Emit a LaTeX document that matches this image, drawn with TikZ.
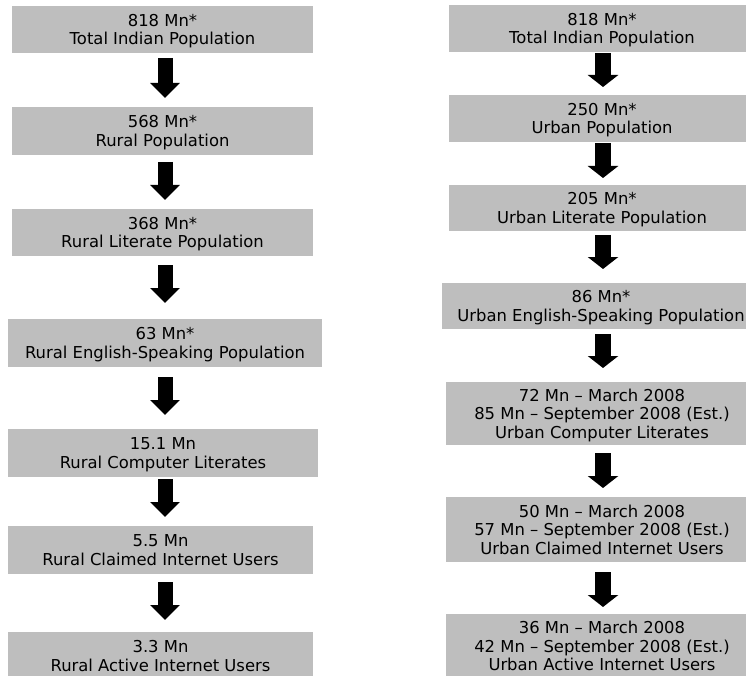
\documentclass[tikz,border=0pt]{standalone}
\usepackage{fontspec}
\setmainfont{DejaVu Sans}
\usetikzlibrary{arrows.meta}
\definecolor{boxgray}{RGB}{190,190,190}
\begin{document}
\begin{tikzpicture}[x=1pt,y=-1pt,
  stage/.style={fill=boxgray, inner sep=0pt, outer sep=0pt, align=center, text depth=0pt,
    font=\fontsize{16.4}{18.7}\selectfont},
  downarrowL/.style={line width=15pt, -{Triangle[width=29pt,length=15pt]}},
  downarrowR/.style={line width=16pt, -{Triangle[width=30pt,length=12pt]}}]
\useasboundingbox (0,0) rectangle (746,676);
\coordinate (axL) at (165,0);
\coordinate (axR) at (603,0);
% left column
\node[stage, minimum width=301pt, minimum height=47pt] (L1) at (162.5,29.5) {818 Mn*\\Total Indian Population};
\node[stage, minimum width=301pt, minimum height=48pt] (L2) at (162.5,131) {568 Mn*\\Rural Population};
\node[stage, minimum width=301pt, minimum height=47pt] (L3) at (162.5,232.5) {368 Mn*\\Rural Literate Population};
\node[stage, minimum width=314pt, minimum height=48pt] (L4) at (165,343) {63 Mn*\\Rural English-Speaking Population};
\node[stage, minimum width=310pt, minimum height=48pt] (L5) at (163,453) {15.1 Mn\\Rural Computer Literates};
\node[stage, minimum width=305pt, minimum height=48pt] (L6) at (160.5,550) {5.5 Mn\\Rural Claimed Internet Users};
\node[stage, minimum width=305pt, minimum height=48pt] (L7) at (160.5,656) {3.3 Mn\\Rural Active Internet Users};
% right column
\node[stage, minimum width=306pt, minimum height=47pt] (R1) at (602,28.5) {818 Mn*\\Total Indian Population};
\node[stage, minimum width=306pt, minimum height=47pt] (R2) at (602,118.5) {250 Mn*\\Urban Population};
\node[stage, minimum width=306pt, minimum height=46pt] (R3) at (602,208) {205 Mn*\\Urban Literate Population};
\node[stage, minimum width=318pt, minimum height=46pt] (R4) at (601,306) {86 Mn*\\Urban English-Speaking Population};
\node[stage, minimum width=312pt, minimum height=63pt] (R5) at (602,413.5) {72 Mn – March 2008\\85 Mn – September 2008 (Est.)\\Urban Computer Literates};
\node[stage, minimum width=312pt, minimum height=65pt] (R6) at (602,529.5) {50 Mn – March 2008\\57 Mn – September 2008 (Est.)\\Urban Claimed Internet Users};
\node[stage, minimum width=312pt, minimum height=64pt] (R7) at (602,646) {36 Mn – March 2008\\42 Mn – September 2008 (Est.)\\Urban Active Internet Users};
% left arrows
\draw[downarrowL, shorten <=5pt, shorten >=9pt] (L1.south -| axL) -- (L2.north -| axL);
\draw[downarrowL, shorten <=7pt, shorten >=9pt] (L2.south -| axL) -- (L3.north -| axL);
\draw[downarrowL, shorten <=9pt, shorten >=16pt] (L3.south -| axL) -- (L4.north -| axL);
\draw[downarrowL, shorten <=10pt, shorten >=14pt] (L4.south -| axL) -- (L5.north -| axL);
\draw[downarrowL, shorten <=2pt, shorten >=9pt] (L5.south -| axL) -- (L6.north -| axL);
\draw[downarrowL, shorten <=8pt, shorten >=12pt] (L6.south -| axL) -- (L7.north -| axL);
% right arrows
\draw[downarrowR, shorten <=1pt, shorten >=8pt] (R1.south -| axR) -- (R2.north -| axR);
\draw[downarrowR, shorten <=1pt, shorten >=7pt] (R2.south -| axR) -- (R3.north -| axR);
\draw[downarrowR, shorten <=4pt, shorten >=14pt] (R3.south -| axR) -- (R4.north -| axR);
\draw[downarrowR, shorten <=5pt, shorten >=14pt] (R4.south -| axR) -- (R5.north -| axR);
\draw[downarrowR, shorten <=8pt, shorten >=9pt] (R5.south -| axR) -- (R6.north -| axR);
\draw[downarrowR, shorten <=10pt, shorten >=7pt] (R6.south -| axR) -- (R7.north -| axR);
\end{tikzpicture}
\end{document}
